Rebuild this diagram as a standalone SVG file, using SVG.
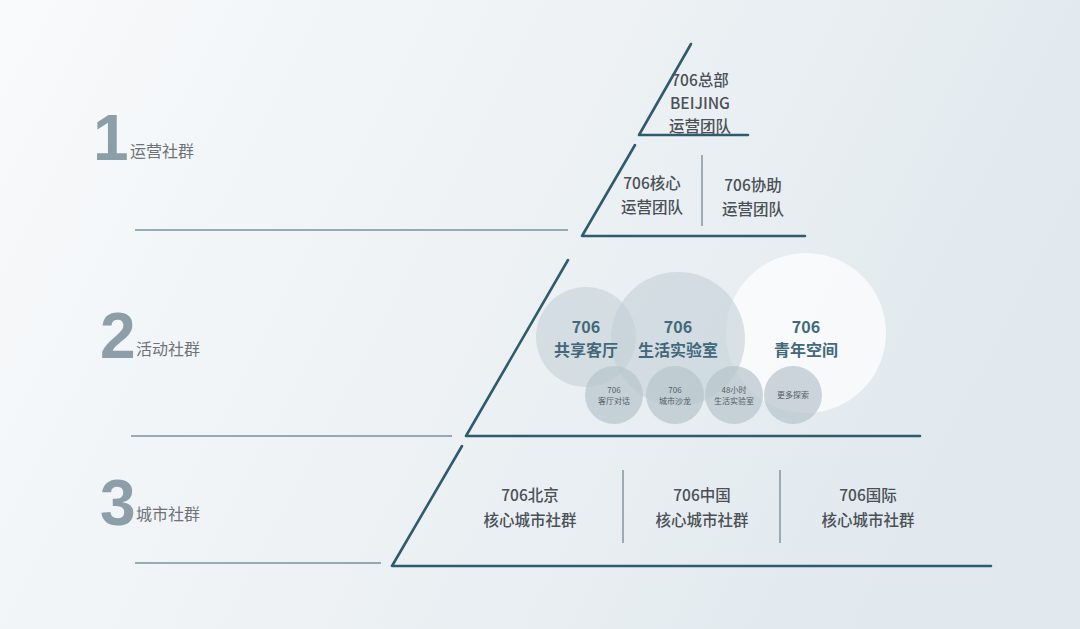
<svg xmlns="http://www.w3.org/2000/svg" width="1080" height="629" viewBox="0 0 1080 629">
<defs>
<linearGradient id="bg" x1="0" y1="0" x2="1" y2="0.3">
<stop offset="0" stop-color="#f8fafb"/>
<stop offset="0.5" stop-color="#eef2f5"/>
<stop offset="1" stop-color="#e1e9ee"/>
</linearGradient>
<style>
.tri{fill:none;stroke:#2f5b6d;stroke-width:2.6;stroke-linecap:round;stroke-linejoin:round}
.rule{stroke:#3a6474;stroke-width:1.1}
.div{stroke:#6a7f8a;stroke-width:1.2}
.num{font-family:"Liberation Sans",Arial,sans-serif;font-weight:bold;font-size:64px;fill:#8c9fa9}
.lab{font-family:"Noto Sans CJK SC","Noto Sans",sans-serif;font-size:16px;fill:#6d7379}
.t{font-family:"Noto Sans CJK SC","Liberation Sans",sans-serif;font-size:15.5px;font-weight:500;fill:#4b5056;text-anchor:middle}
.c{font-family:"Noto Sans CJK SC","Liberation Sans",sans-serif;font-size:16px;font-weight:600;fill:#43687a;text-anchor:middle}
.s{font-family:"Noto Sans CJK SC","Liberation Sans",sans-serif;font-size:8px;fill:#555c62;text-anchor:middle}
.big{fill:#c3d0d7;fill-opacity:0.6}
.sm{fill:#b7c5cc;fill-opacity:0.7}
</style>
</defs>
<rect width="1080" height="629" fill="url(#bg)"/>

<g id="connectors">
<polyline class="tri" points="691,44 639,135 748,135"/>
<polyline class="tri" points="635,145 582,236 805,236"/>
<line class="div" x1="702" y1="155" x2="702" y2="226"/>
<polyline class="tri" points="568,260 466,436 920,436"/>
<polyline class="tri" points="462,446 392,566 991,566"/>
<line class="div" x1="623" y1="470" x2="623" y2="543"/>
<line class="div" x1="780" y1="470" x2="780" y2="543"/>
<line class="rule" x1="135" y1="230" x2="568" y2="230"/>
<line class="rule" x1="131" y1="436" x2="452" y2="436"/>
<line class="rule" x1="135" y1="563" x2="381" y2="563"/>
</g>

<g id="level1">
<text class="num" x="93" y="160">1</text>
<text class="lab" x="130" y="157">运营社群</text>
</g>
<g id="level2">
<text class="num" x="100" y="358">2</text>
<text class="lab" x="136" y="355">活动社群</text>
</g>
<g id="level3">
<text class="num" x="100" y="525">3</text>
<text class="lab" x="136" y="520">城市社群</text>
</g>

<g id="hq">
<text class="t" x="700" y="86">706总部</text>
<text class="t" x="700" y="109" font-weight="bold">BEIJING</text>
<text class="t" x="700" y="132">运营团队</text>
</g>
<g id="core">
<text class="t" x="652" y="189">706核心</text>
<text class="t" x="652" y="213">运营团队</text>
</g>
<g id="assist">
<text class="t" x="753" y="191">706协助</text>
<text class="t" x="753" y="215">运营团队</text>
</g>

<g id="youth">
<circle cx="806" cy="333" r="80" fill="#ffffff" fill-opacity="0.7"/>
<text class="c" x="806" y="333">706</text>
<text class="c" x="806" y="356">青年空间</text>
</g>
<g id="lab">
<circle class="big" cx="678" cy="339" r="67"/>
<text class="c" x="678" y="333">706</text>
<text class="c" x="678" y="356">生活实验室</text>
</g>
<g id="lounge">
<circle class="big" cx="586" cy="337" r="50"/>
<text class="c" x="586" y="333">706</text>
<text class="c" x="586" y="356">共享客厅</text>
</g>
<g id="talk">
<circle class="sm" cx="614" cy="395" r="29"/>
<text class="s" x="614" y="393">706</text>
<text class="s" x="614" y="404">客厅对话</text>
</g>
<g id="salon">
<circle class="sm" cx="675" cy="395" r="29"/>
<text class="s" x="675" y="393">706</text>
<text class="s" x="675" y="404">城市沙龙</text>
</g>
<g id="h48">
<circle class="sm" cx="734" cy="395" r="29"/>
<text class="s" x="734" y="393">48小时</text>
<text class="s" x="734" y="404">生活实验室</text>
</g>
<g id="more">
<circle class="sm" cx="793" cy="395" r="29"/>
<text class="s" x="793" y="398">更多探索</text>
</g>

<g id="beijing">
<text class="t" x="530" y="501">706北京</text>
<text class="t" x="530" y="526">核心城市社群</text>
</g>
<g id="china">
<text class="t" x="702" y="501">706中国</text>
<text class="t" x="702" y="526">核心城市社群</text>
</g>
<g id="intl">
<text class="t" x="868" y="501">706国际</text>
<text class="t" x="868" y="526">核心城市社群</text>
</g>
</svg>
